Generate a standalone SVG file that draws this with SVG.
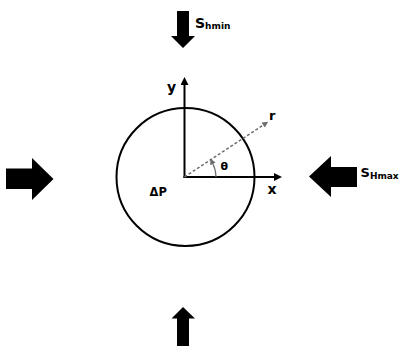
<svg xmlns="http://www.w3.org/2000/svg" width="400" height="346" viewBox="0 0 400 346">
<style>
.lbl{font-family:"DejaVu Sans","Liberation Sans",sans-serif;font-weight:bold;fill:#000}
.big{fill:#000;stroke:none}
.axis{stroke:#000;stroke-width:2;fill:none}
.gray{stroke:#6e6e6e;fill:none}
</style>
<defs>
<marker id="ah" viewBox="0 0 8 8" refX="1" refY="4" markerWidth="8" markerHeight="8" markerUnits="userSpaceOnUse" orient="auto">
<path d="M0,0 L8,4 L0,8 z" fill="#000"/>
</marker>
<marker id="ahg" viewBox="0 0 6 6" refX="1" refY="3" markerWidth="6" markerHeight="6" markerUnits="userSpaceOnUse" orient="auto">
<path d="M0,0 L6,3 L0,6 z" fill="#6e6e6e"/>
</marker>
</defs>
<rect width="400" height="346" fill="#fff"/>
<g id="s-hmin-top">
<polygon class="big" points="177,11 189,11 189,36 195,36 183,48 171,36 177,36"/>
<text class="lbl" x="195" y="27.5" font-size="14">S<tspan font-size="9" dy="1">hmin</tspan></text>
</g>
<g id="s-hmin-bottom">
<polygon class="big" points="183,307 195,318.5 189,318.5 189,346 177,346 177,318.5 171.5,318.5"/>
</g>
<g id="s-hmax-left">
<polygon class="big" points="6,168.5 32,168.5 32,158 53.5,179 32,200 32,189 6,189"/>
</g>
<g id="s-hmax-right">
<polygon class="big" points="309,176.5 331,156 331,167 357,167 357,187 331,187 331,197"/>
<text class="lbl" x="360.5" y="176.5" font-size="13">S<tspan font-size="9" dy="2">Hmax</tspan></text>
</g>
<g id="borehole">
<circle cx="185.5" cy="177" r="69" fill="none" stroke="#000" stroke-width="2"/>
<text class="lbl" x="149.5" y="196" font-size="11.5">ΔP</text>
</g>
<g id="connectors">
<line class="axis" x1="184.5" y1="178" x2="184.5" y2="84" marker-end="url(#ah)"/>
<line class="axis" x1="183.5" y1="177" x2="275" y2="177" marker-end="url(#ah)"/>
<line class="gray" stroke-width="1.5" stroke-dasharray="3,2" x1="184.5" y1="177" x2="264" y2="124.5" marker-end="url(#ahg)"/>
<path class="gray" stroke-width="1.2" d="M216,177 A31.5,31.5 0 0 0 212.5,163" marker-end="url(#ahg)"/>
</g>
<g id="labels">
<text class="lbl" x="167" y="91.5" font-size="14">y</text>
<text class="lbl" x="267.5" y="193.5" font-size="14">x</text>
<text class="lbl" x="269" y="120" font-size="13">r</text>
<text class="lbl" x="220.5" y="169.5" font-size="11">θ</text>
</g>
</svg>
